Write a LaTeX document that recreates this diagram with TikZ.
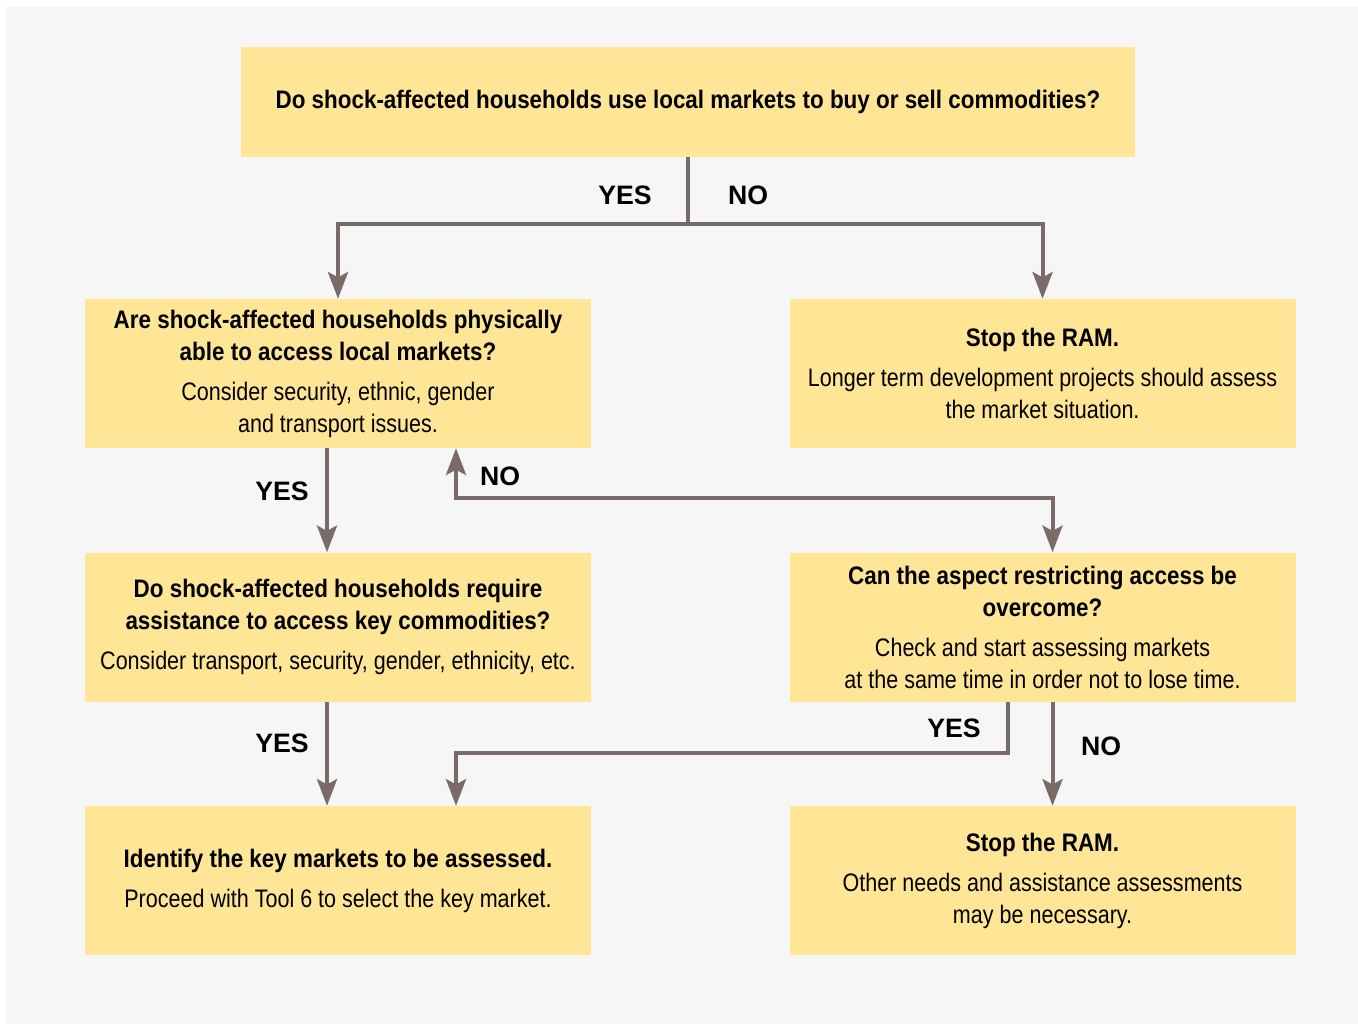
\documentclass[tikz,border=0pt]{standalone}
\usepackage{fontspec}
\setmainfont{Liberation Sans}
\newfontfamily\narrowfont[FakeStretch=0.85, BoldFeatures={FakeStretch=0.885}]{Liberation Sans}
\usetikzlibrary{positioning, arrows.meta}
\definecolor{boxfill}{HTML}{FFE596}
\definecolor{panelgray}{HTML}{F6F6F6}
\definecolor{flowgray}{HTML}{7A6B68}
\tikzset{flowtip/.tip={Stealth[length=20pt, width=15pt, inset=4pt]}}

\begin{document}
\begin{tikzpicture}
			[x=0.75pt, y=-0.75pt,
			box/.style={fill=boxfill, minimum width=379.5pt, minimum height=111.75pt, align=center, inner sep=0pt, font=\narrowfont\fontsize{19}{24}\selectfont},
			answer/.style={font=\bfseries\fontsize{20}{24}\selectfont},
			flow/.style={draw=flowgray, line width=3pt, -flowtip},
			node distance=78pt and 148.5pt]
			\fill[white] (0,0) rectangle (1358,1024);
			\fill[panelgray] (6,7) rectangle (1358,1024);
			% questions and outcomes
			\node[box, minimum width=670.5pt, minimum height=82.5pt] (q) at (688,102) {\textbf{Do shock-affected households use local markets to buy or sell commodities?}};
			\node[box] (access) at (338,373.5) {\textbf{Are shock-affected households physically}\\\textbf{able to access local markets?}\\[6pt]Consider security, ethnic, gender\\and transport issues.};
			\node[box] (stopA) [right = of access] {\textbf{Stop the RAM.}\\[6pt]Longer term development projects should assess\\the market situation.};
			\node[box] (require) [below = of access] {\textbf{Do shock-affected households require}\\\textbf{assistance to access key commodities?}\\[6pt]Consider transport, security, gender, ethnicity, etc.};
			\node[box] (overcome) [below = of stopA] {\textbf{Can the aspect restricting access be}\\\textbf{overcome?}\\[6pt]Check and start assessing markets\\at the same time in order not to lose time.};
			\node[box] (ident) [below = of require] {\textbf{Identify the key markets to be assessed.}\\[6pt]Proceed with Tool 6 to select the key market.};
			\node[box] (stopB) [below = of overcome] {\textbf{Stop the RAM.}\\[6pt]Other needs and assistance assessments\\may be necessary.};
			% connectors
			\draw[flow] (q.south) -- ++(0,67) -| (access.north);
			\draw[flow] (q.south) ++(0,67) -| (stopA.north);
			\draw[flow] ([xshift=-8.25pt]access.south) -- ([xshift=-8.25pt]require.north);
			\draw[flow, flowtip-flowtip] ([xshift=88.5pt]access.south) -- ++(0,50) -| ([xshift=7.5pt]overcome.north);
			\draw[flow] ([xshift=-8.25pt]require.south) -- ([xshift=-8.25pt]ident.north);
			\draw[flow] ([xshift=-26.25pt]overcome.south) -- ++(0,51) -| ([xshift=88.5pt]ident.north);
			\draw[flow] ([xshift=7.5pt]overcome.south) -- ([xshift=7.5pt]stopB.north);
			% answers
			\node[answer] (yes1) at (625,195) {YES};
			\node[answer] (no1) at (748,195) {NO};
			\node[answer] (yes2) at (282,491) {YES};
			\node[answer] (no2) at (500,476) {NO};
			\node[answer] (yes3) at (282,743) {YES};
			\node[answer] (yes4) at (954,728) {YES};
			\node[answer] (no3) at (1101,746) {NO};
		\end{tikzpicture}
\end{document}
